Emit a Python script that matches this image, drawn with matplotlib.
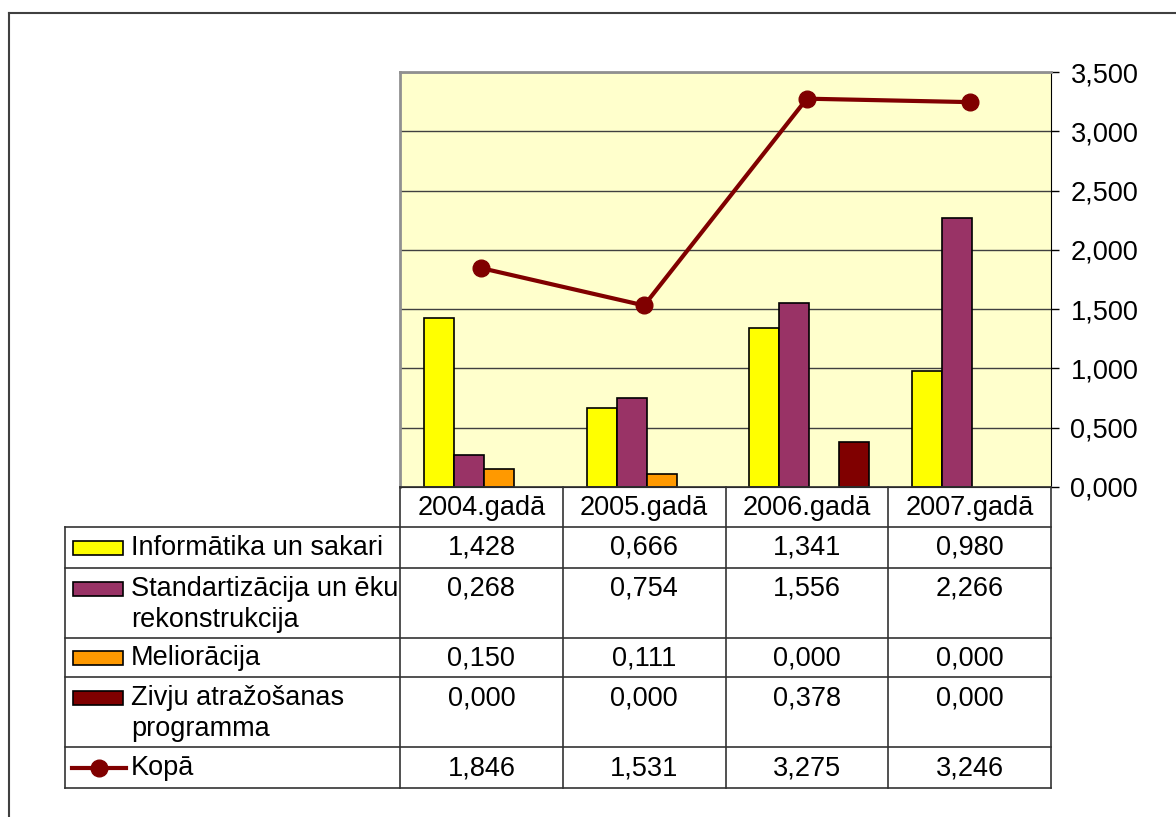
import numpy as np
import matplotlib
matplotlib.use("Agg")
import matplotlib.pyplot as plt
from matplotlib.lines import Line2D
from matplotlib.patches import Rectangle

plt.rcParams['font.family'] = ['Liberation Sans', 'DejaVu Sans']

years = ["2004.gadā", "2005.gadā", "2006.gadā", "2007.gadā"]
series_names = ["Informātika un sakari",
                "Standartizācija un ēku\nrekonstrukcija",
                "Meliorācija",
                "Zivju atražošanas\nprogramma"]
informatika = [1.428, 0.666, 1.341, 0.980]
standartizacija = [0.268, 0.754, 1.556, 2.266]
melioracija = [0.150, 0.111, 0.000, 0.000]
zivju = [0.000, 0.000, 0.378, 0.000]
kopa = [1.846, 1.531, 3.275, 3.246]
kopa_name = "Kopā"
yticks = [0.0, 0.5, 1.0, 1.5, 2.0, 2.5, 3.0, 3.5]

bar_colors = ["#FFFF00", "#993366", "#FF9900", "#800000"]
line_color = "#800000"

W, H = 1176, 817
fig = plt.figure(figsize=(W / 100, H / 100), dpi=100)

def px(x0, y0, x1, y1):
    # pixel box -> figure fraction rect
    return [x0 / W, 1 - y1 / H, (x1 - x0) / W, (y1 - y0) / H]

# outer frame
fig.add_artist(Line2D([9 / W, 9 / W], [0, 1 - 13 / H], color="#404040", lw=1.5))
fig.add_artist(Line2D([9 / W, 1], [1 - 13 / H, 1 - 13 / H], color="#404040", lw=1.5))

fs = 19.5

ax = fig.add_axes(px(400, 72, 1051, 487))
ax.set_facecolor("#FFFFCC")
series = [informatika, standartizacija, melioracija, zivju]
x = np.arange(len(years))
bw = 30 / 163.0
off = 2.5 / 163.0
for i, vals in enumerate(series):
    lws = [1.2 if v > 0 else 0 for v in vals]
    ax.bar(x + off + (i - 1.5) * bw, vals, width=bw, color=bar_colors[i],
           edgecolor="black", linewidth=lws, zorder=3)
ax.plot(x, kopa, color=line_color, lw=3, marker="o", markersize=12, zorder=4)

ax.set_xlim(-0.5, 3.5)
ax.set_ylim(0, 3.5)
ax.set_yticks(yticks)
ax.set_yticklabels([f"{v:.3f}".replace(".", ",") for v in yticks], fontsize=fs)
ax.yaxis.tick_right()
ax.tick_params(axis="y", direction="out", length=6, width=1, pad=8, colors="black")
ax.set_xticks([])
ax.grid(axis="y", color="#404040", lw=1, zorder=0)
ax.spines["top"].set_color("#909090")
ax.spines["left"].set_color("#909090")
ax.spines["top"].set_linewidth(2)
ax.spines["left"].set_linewidth(2)
ax.spines["right"].set_color("black")
ax.spines["bottom"].set_color("black")

# data table below the axes, columns aligned with categories
col_w = 651 / 4.0
tab = fig.add_axes(px(65, 487, 1051, 788))
tab.set_xlim(-0.5 - 335 / col_w, 3.5)
row_h = [40, 41, 70, 40, 70, 41]
edges = np.concatenate([[0], np.cumsum(row_h)])
tab.set_ylim(edges[-1], 0)
tab.axis("off")
xl = -0.5 - 335 / col_w
lc = "#333333"
for j, e in enumerate(edges):
    x0 = -0.5 if j == 0 else xl
    tab.plot([x0, 3.5], [e, e], color=lc, lw=1.2, clip_on=False)
tab.plot([xl, xl], [edges[1], edges[-1]], color=lc, lw=1.2, clip_on=False)
for k in range(5):
    tab.plot([k - 0.5, k - 0.5], [0, edges[-1]], color=lc, lw=1.2, clip_on=False)

for k, yr in enumerate(years):
    tab.text(k, (edges[0] + edges[1]) / 2 + 1, yr, ha="center", va="center", fontsize=fs)

all_rows = series + [kopa]
all_names = series_names + [kopa_name]
key_x0 = xl + 8 / col_w
key_x1 = xl + 58 / col_w
for r, (vals, name) in enumerate(zip(all_rows, all_names)):
    top = edges[r + 1]
    yc = top + 21
    for k, v in enumerate(vals):
        tab.text(k, yc, f"{v:.3f}".replace(".", ","), ha="center", va="center", fontsize=fs)
    for li, part in enumerate(name.split("\n")):
        tab.text(xl + 66 / col_w, yc + li * 31, part, ha="left", va="center", fontsize=fs)
    if r < 4:
        tab.add_patch(Rectangle((key_x0, yc - 7), key_x1 - key_x0, 14,
                                facecolor=bar_colors[r], edgecolor="black", lw=1.2))
    else:
        tab.plot([xl + 7 / col_w, xl + 61 / col_w], [yc, yc], color=line_color, lw=3)
        tab.plot([xl + 34 / col_w], [yc], marker="o", markersize=12, color=line_color)

fig.savefig("out.png", dpi=100)
